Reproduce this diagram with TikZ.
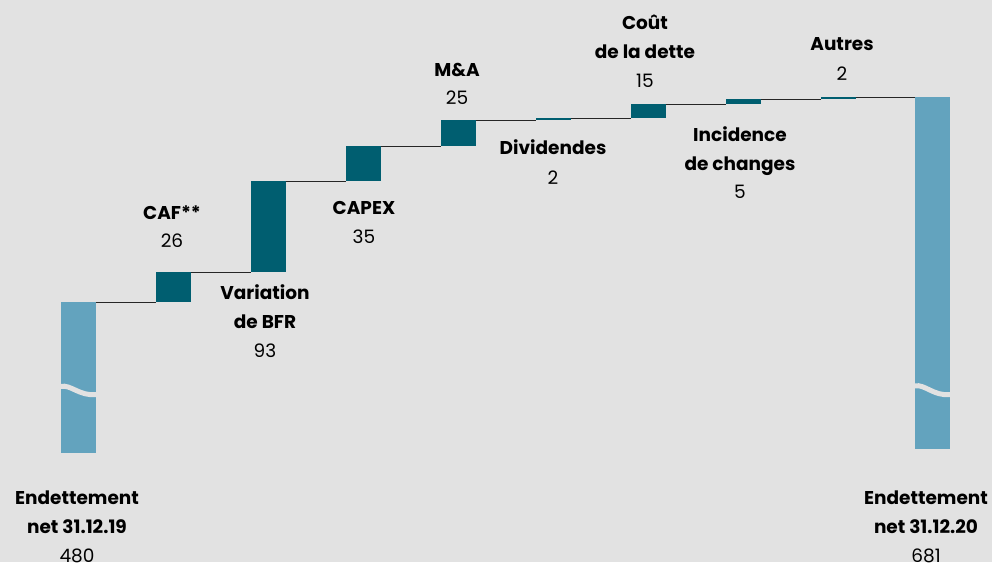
\documentclass[tikz,border=0pt]{standalone}
\usepackage{fontspec}
\setmainfont{Poppins}

\definecolor{bgcol}{RGB}{226,226,226}
\definecolor{darkteal}{RGB}{0,94,112}
\definecolor{lightblue}{RGB}{99,163,190}

\tikzset{
  bar/.style={fill=darkteal, inner sep=0pt, outer sep=0pt, minimum width=35pt},
  totalbar/.style={bar, fill=lightblue},
  link/.style={draw=black!85, line width=0.8pt},
  gap/.style={draw=bgcol, line width=5pt},
  title/.style={font=\fontsize{18.5}{29}\selectfont\bfseries, align=center, anchor=base, inner sep=0pt},
  value/.style={font=\fontsize{18.5}{29}\selectfont, anchor=base, inner sep=0pt}
}

\begin{document}
\begin{tikzpicture}[x=1pt, y=-1pt]
      \path[use as bounding box, fill=bgcol] (0,0) rectangle (992,562);

      % Draw the bars
      \node[totalbar, minimum height=151pt] (start) at (78.5,377.5) {};
      \node[bar, minimum height=30pt] (caf) at (173.5,287) {};
      \node[bar, minimum height=91pt] (bfr) at (268,226.5) {};
      \node[bar, minimum height=35pt] (capex) at (363.5,163.5) {};
      \node[bar, minimum height=26pt] (ma) at (458.5,133) {};
      \node[bar, minimum height=2pt] (div) at (553.5,119) {};
      \node[bar, minimum height=14pt] (cout) at (648.5,111) {};
      \node[bar, minimum height=5pt] (change) at (743.5,101.5) {};
      \node[bar, minimum height=2pt] (autres) at (838.5,98) {};
      \node[totalbar, minimum height=352pt] (end) at (932.5,273) {};

      % Mark the axis breaks
      \draw[gap] (61,386.5) .. controls (70,384) and (80,396.5) .. (96,394.5);
      \draw[gap] (915,386) .. controls (924,383.5) and (934,396.5) .. (950,394.5);

      % Draw the step lines
      \draw[link] (start.north east) -- (caf.south west);
      \draw[link] (caf.north east) -- (bfr.south west);
      \draw[link] (bfr.north east) -- (capex.south west);
      \draw[link] (capex.north east) -- (ma.south west);
      \draw[link] (ma.north east) -- (div.south west);
      \draw[link] (div.north east) -- (cout.south west);
      \draw[link] (cout.north east) -- (change.south west);
      \draw[link] (change.north east) -- (autres.south west);
      \draw[link] (autres.north east) -- (end.north west);

      % Labels and values
      \node[title] (start-lbl) at (77,533) {Endettement\\net 31.12.19};
      \node[value] (start-val) at (77,562.5) {480};
      \node[title] (caf-lbl) at (172,219) {CAF**};
      \node[value] (caf-val) at (172,247) {26};
      \node[title] (bfr-lbl) at (265,328) {Variation\\de BFR};
      \node[value] (bfr-val) at (265,357) {93};
      \node[title] (capex-lbl) at (364,214) {CAPEX};
      \node[value] (capex-val) at (364,243) {35};
      \node[title] (ma-lbl) at (457,76) {M\&A};
      \node[value] (ma-val) at (457,104) {25};
      \node[title] (div-lbl) at (553,154) {Dividendes};
      \node[value] (div-val) at (553,184) {2};
      \node[title] (cout-lbl) at (645,58) {Coût\\de la dette};
      \node[value] (cout-val) at (645,87) {15};
      \node[title] (change-lbl) at (740,170) {Incidence\\de changes};
      \node[value] (change-val) at (740,198) {5};
      \node[title] (autres-lbl) at (842,50) {Autres};
      \node[value] (autres-val) at (842,80) {2};
      \node[title] (end-lbl) at (926,533) {Endettement\\net 31.12.20};
      \node[value] (end-val) at (926,562.5) {681};

\end{tikzpicture}
\end{document}
